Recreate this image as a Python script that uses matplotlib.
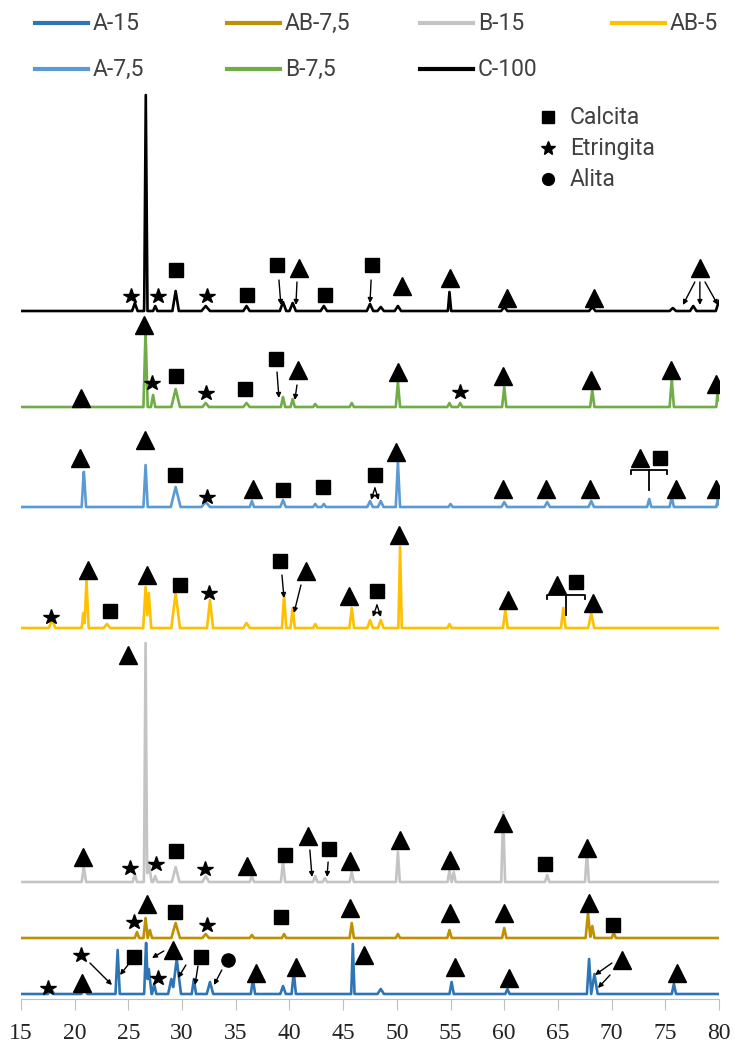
import numpy as np
import matplotlib.pyplot as plt
from matplotlib.lines import Line2D

# --- XRD patterns: (2theta, height, half-base width), heights in px-like units ---
names = ["A-15", "AB-7,5", "B-15", "AB-5", "A-7,5", "B-7,5", "C-100"]
colors = ["#2E75B6", "#BF9000", "#C4C4C4", "#FFC000", "#5B9BD5", "#70AD47", "#000000"]
offsets = [5, 61, 117, 371, 492, 592, 688]

peaks_A15 = [(17.8, 5, .3), (20.9, 4, .3), (24.0, 44, .2), (26.65, 54, .18), (26.9, 25, .25),
             (27.4, 10, .2), (29.0, 15, .3), (29.5, 35, .4), (31.1, 15, .2), (32.6, 12, .3),
             (36.6, 15, .2), (39.4, 8, .25), (40.4, 22, .2), (45.9, 50, .15), (48.5, 5, .3),
             (55.1, 12, .2), (60.3, 5, .2), (67.9, 35, .2), (68.4, 20, .3), (75.8, 10, .2)]
peaks_AB75 = [(25.8, 6, .2), (26.6, 20, .2), (27.0, 8, .2), (29.4, 15, .4), (32.2, 4, .3),
              (36.5, 3, .2), (39.5, 4, .2), (45.8, 15, .2), (50.1, 4, .2), (54.9, 8, .2),
              (60.0, 10, .2), (67.8, 25, .22), (68.2, 12, .2), (70.2, 5, .2)]
peaks_B15 = [(20.85, 15, .2), (25.6, 8, .2), (26.6, 239, .15), (26.9, 20, .25), (27.5, 6, .2),
             (29.4, 15, .35), (32.2, 6, .3), (36.5, 6, .2), (39.4, 20, .2), (42.4, 6, .2),
             (43.3, 4, .2), (45.8, 10, .2), (50.1, 30, .18), (54.9, 12, .18), (55.3, 10, .18),
             (59.9, 70, .18), (64.0, 7, .2), (67.7, 30, .18)]
peaks_AB5 = [(17.9, 8, .3), (20.8, 15, .15), (21.1, 48, .2), (23.0, 4, .3), (26.6, 41, .22),
             (26.9, 35, .22), (29.4, 35, .4), (32.6, 28, .28), (36.0, 5, .3), (39.5, 33, .2),
             (40.3, 20, .2), (42.4, 4, .2), (45.8, 20, .22), (47.5, 8, .25), (48.5, 8, .25),
             (50.3, 81, .16), (54.9, 4, .2), (60.1, 18, .22), (65.5, 20, .22), (68.1, 15, .28)]
peaks_A75 = [(20.85, 37, .2), (26.6, 42, .2), (29.4, 20, .45), (32.2, 5, .4), (36.5, 6, .2),
             (39.4, 7, .25), (42.4, 3, .2), (43.2, 3, .2), (47.5, 6, .25), (48.5, 6, .25),
             (50.1, 45, .2), (55.0, 3, .2), (60.0, 5, .25), (64.0, 5, .25), (68.1, 6, .25),
             (73.5, 8, .2), (75.6, 10, .2), (79.9, 8, .15)]
peaks_B75 = [(20.85, 7, .2), (26.6, 77, .2), (27.3, 12, .2), (29.4, 18, .4), (32.2, 4, .3),
             (36.0, 4, .3), (39.4, 10, .2), (40.3, 8, .2), (42.4, 3, .2), (45.8, 4, .2),
             (50.1, 25, .2), (54.9, 4, .2), (55.9, 4, .2), (60.0, 20, .2), (68.2, 17, .2),
             (75.6, 28, .2), (79.9, 20, .15)]
peaks_C100 = [(25.6, 8, .25), (26.62, 216, .15), (27.5, 5, .2), (29.4, 20, .3), (32.2, 5, .4),
              (36.0, 5, .3), (39.4, 9, .3), (40.3, 8, .3), (43.2, 5, .3), (47.5, 7, .3),
              (48.5, 4, .3), (50.1, 5, .3), (54.9, 19, .15), (60.0, 4, .3), (68.2, 4, .3),
              (75.7, 3, .3), (77.6, 5, .3), (80.0, 10, .3)]
all_peaks = [peaks_A15, peaks_AB75, peaks_B15, peaks_AB5, peaks_A75, peaks_B75, peaks_C100]

# --- phase markers (2theta, y) ---
triangles = [(40.88, 731), (50.47, 713), (54.94, 721), (60.25, 701), (68.35, 701), (78.22, 731),
             (20.59, 601), (26.45, 674), (40.79, 629), (50.1, 627), (59.88, 623), (68.07, 619),
             (75.52, 629), (79.71, 615),
             (20.49, 541), (26.55, 559), (36.6, 510), (49.92, 547), (59.88, 510), (63.88, 510),
             (67.98, 510), (72.64, 541), (75.99, 510), (79.71, 510),
             (21.24, 429), (26.73, 424), (41.54, 428), (45.54, 403), (50.2, 464), (60.34, 399),
             (64.9, 414), (68.26, 396),
             (24.96, 344), (20.77, 142), (36.04, 133), (41.72, 163), (45.63, 138), (50.29, 159),
             (54.94, 139), (59.88, 176), (67.7, 151),
             (26.73, 95), (45.63, 91), (54.94, 86), (59.97, 86), (67.89, 96),
             (20.68, 16), (29.15, 49), (36.88, 26), (40.6, 32), (46.94, 44), (55.41, 32),
             (60.44, 21), (70.96, 39), (76.08, 26)]
squares = [(29.43, 729), (36.04, 704), (38.84, 734), (43.3, 704), (47.68, 734),
           (29.43, 623), (35.86, 610), (38.74, 640),
           (29.34, 524), (39.4, 509), (43.12, 512), (47.96, 524), (74.5, 541),
           (23.29, 388), (29.8, 414), (39.12, 438), (48.15, 408), (66.68, 417),
           (29.43, 148), (39.58, 144), (43.68, 150), (63.79, 135),
           (29.34, 87), (39.21, 82), (70.12, 74),
           (25.52, 42), (31.76, 42)]
stars = [(25.24, 703), (27.76, 703), (32.32, 703),
         (27.2, 616), (32.23, 606), (55.88, 607),
         (32.32, 502),
         (17.79, 382), (32.5, 406),
         (25.15, 131), (27.57, 135), (32.13, 130),
         (25.52, 77), (32.32, 74),
         (17.51, 11), (20.59, 44), (27.76, 21)]
circles = [(34.27, 39)]

arrows = [(39.02, 719, 39.2, 694), (40.7, 717, 40.6, 694), (47.6, 719, 47.5, 696),
          (77.75, 717, 76.64, 694), (78.22, 717, 78.22, 694), (78.7, 717, 79.9, 694),
          (38.84, 627, 39.02, 601), (40.7, 614, 40.5, 599),
          (47.96, 511, 47.6, 499), (47.96, 511, 48.3, 499),
          (39.3, 424, 39.49, 401), (41.07, 414, 40.42, 386),
          (48.15, 394, 47.77, 382), (48.15, 394, 48.52, 382),
          (41.9, 149, 42.1, 122), (43.6, 137, 43.5, 122),
          (21.42, 36, 23.47, 14), (24.96, 34, 24.22, 24), (28.3, 48, 27.2, 41),
          (31.48, 33, 31.2, 14), (30.36, 34, 29.62, 21), (33.7, 29, 32.97, 14),
          (70.03, 36, 68.45, 24), (69.85, 24, 68.73, 11)]
# brackets: x0, x1, y, stem end y
brackets = [(71.8, 75.15, 529, 509), (63.98, 67.5, 404, 384)]

phase_names = ["Calcita", "Etringita", "Alita"]
phase_marks = ["s", "*", "o"]

x = np.arange(15, 80.0001, 0.02)

fig = plt.figure(figsize=(7.35, 10.48), dpi=100)
ax = fig.add_axes([21 / 735, 49 / 1048, 698 / 735, 909 / 1048])

for name, col, off, pk in zip(names, colors, offsets, all_peaks):
    y = np.zeros_like(x)
    for pos, h, w in pk:
        y = np.maximum(y, h * np.clip(1 - np.abs(x - pos) / w, 0, None))
    ax.plot(x, y + off, color=col, lw=1.9, label=name)

ax.plot(*zip(*triangles), ls="none", marker="^", ms=13.5, color="k")
ax.plot(*zip(*squares), ls="none", marker="s", ms=10, color="k")
ax.plot(*zip(*stars), ls="none", marker="*", ms=11.5, color="k")
ax.plot(*zip(*circles), ls="none", marker="o", ms=9.5, color="k")

for x1, y1, x2, y2 in arrows:
    ax.annotate("", xy=(x2, y2), xytext=(x1, y1),
                arrowprops=dict(arrowstyle="-|>", color="k", lw=1, mutation_scale=7,
                                shrinkA=0, shrinkB=0))
for x0, x1, yb, ys in brackets:
    ax.plot([x0, x0, x1, x1], [yb - 4, yb, yb, yb - 4], color="k", lw=1.3)
    ax.plot([(x0 + x1) / 2] * 2, [yb, ys], color="k", lw=1.3)

# phase key
for i, (pn, pm) in enumerate(zip(phase_names, phase_marks)):
    yy = 882 - i * 31
    ax.plot(64.07, yy, marker=pm, ms={"s": 9, "*": 10, "o": 8.5}[pm], color="k")
    ax.text(66.1, yy, pn, fontsize=16.5, family="Roboto", color="#404040", va="center")

ax.set_xlim(15, 80)
ax.set_ylim(0, 909)
ax.set_xticks(range(15, 81, 5))
for s in ["top", "right", "left"]:
    ax.spines[s].set_visible(False)
ax.spines["bottom"].set_color("#BFBFBF")
ax.set_yticks([])
ax.tick_params(axis="x", direction="out", length=8, color="#BFBFBF", pad=9,
               labelsize=17, labelcolor="#222222")
for lab in ax.get_xticklabels():
    lab.set_family("Liberation Serif")

# series legend drawn at top in two rows
leg_cols = [35, 227, 420, 612]
leg_rows = [23, 69]
for i, (name, col) in enumerate(zip(names, colors)):
    r, c = divmod(i, 4)
    x0 = leg_cols[c]
    yy = 1 - leg_rows[r] / 1048
    fig.add_artist(Line2D([x0 / 735, (x0 + 53) / 735], [yy, yy], color=col, lw=3))
    fig.text((x0 + 58) / 735, yy, name, fontsize=16.5, family="Roboto", color="#404040",
             va="center")

fig.savefig("out.png", dpi=100)
